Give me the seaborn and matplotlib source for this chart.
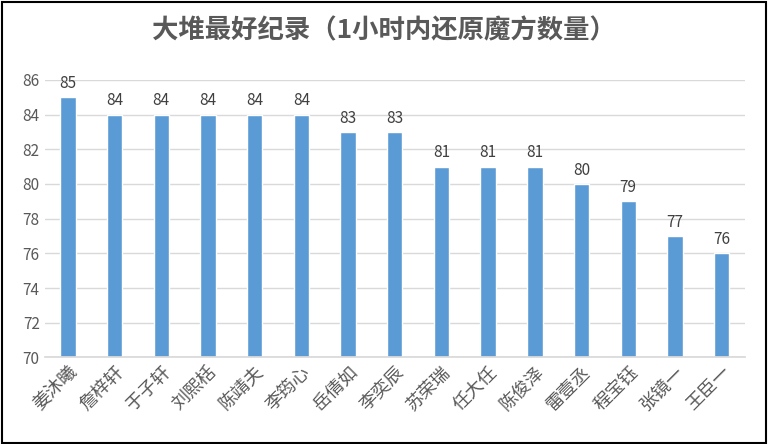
import matplotlib
matplotlib.use("Agg")
import matplotlib.pyplot as plt
import seaborn as sns
import pandas as pd

names = ["姜沐曦", "詹梓轩", "于子轩", "刘熙栝", "陈靖夫", "李筠心", "岳倩如", "李奕辰",
         "苏荣瑞", "任大任", "陈俊泽", "雷壹丞", "程宝钰", "张镜一", "王臣一"]
scores = [85, 84, 84, 84, 84, 84, 83, 83, 81, 81, 81, 80, 79, 77, 76]

df = pd.DataFrame({"name": names, "score": scores})

sns.set_theme(style="white")
plt.rcParams['font.family'] = ['Noto Sans CJK SC', 'DejaVu Sans']

fig = plt.figure(figsize=(7.68, 4.44), dpi=100)
ax = fig.add_axes([0.058, 0.195, 0.912, 0.625])
sns.barplot(data=df, x="name", y="score", color="#5b9bd5", width=0.33, ax=ax,
            saturation=1)
# bars start at the axis floor (70)
for p, v in zip(ax.patches, scores):
    p.set_y(70)
    p.set_height(v - 70)
    ax.text(p.get_x() + p.get_width() / 2, v + 0.3, str(v), ha="center", va="bottom",
            fontsize=11, color="#404040")
ax.set_ylim(70, 86)
ax.set_yticks(range(70, 87, 2))
ax.yaxis.grid(True, color="#d9d9d9", linewidth=1)
ax.set_axisbelow(True)
for s in ["top", "right", "left"]:
    ax.spines[s].set_visible(False)
ax.spines["bottom"].set_color("#d9d9d9")
ax.set_xlabel("")
ax.set_ylabel("")
ax.tick_params(axis="y", labelsize=11, labelcolor="#595959", length=0)
ax.tick_params(axis="x", length=0, pad=4)
plt.setp(ax.get_xticklabels(), rotation=45, ha="right", rotation_mode="anchor",
         fontsize=13, color="#595959")

fig.text(0.5, 0.93, "大堆最好纪录（1小时内还原魔方数量）", ha="center", va="center",
         fontsize=19, fontweight="bold", color="#595959")
fig.patches.append(plt.Rectangle((0.002, 0.003), 0.995, 0.993, transform=fig.transFigure,
                                 fill=False, edgecolor="black", linewidth=1.5))
fig.savefig("out.png", dpi=100)
